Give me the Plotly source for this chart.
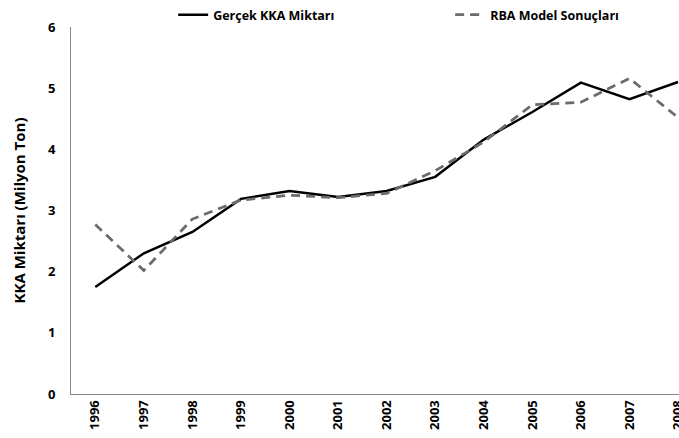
import plotly.graph_objects as go

years = ["1996", "1997", "1998", "1999", "2000", "2001", "2002", "2003",
         "2004", "2005", "2006", "2007", "2008"]
gercek = [1.75, 2.30, 2.65, 3.19, 3.32, 3.22, 3.32, 3.55, 4.16, 4.61, 5.09, 4.82, 5.10]
rba = [2.77, 2.02, 2.86, 3.17, 3.25, 3.21, 3.28, 3.65, 4.12, 4.73, 4.77, 5.16, 4.52]
y_ticks = [0, 1, 2, 3, 4, 5, 6]

FONT = "Open Sans"
x_idx = list(range(len(years)))

fig = go.Figure()
fig.add_trace(go.Scatter(
    x=x_idx, y=gercek, mode="lines", name="Gerçek KKA Miktarı",
    line=dict(color="#000000", width=2.5)))
fig.add_trace(go.Scatter(
    x=x_idx, y=rba, mode="lines", name="RBA Model Sonuçları",
    line=dict(color="#6b6b6b", width=2.75, dash="9px,6px")))

fig.update_layout(
    width=679, height=438,
    margin=dict(l=71, r=0, t=27, b=44, autoexpand=False),
    paper_bgcolor="white", plot_bgcolor="white",
    font=dict(family=FONT, color="#000000"),
    showlegend=True,
    legend=dict(orientation="h", xref="container", yref="container",
                x=0.255, y=1.0, xanchor="left", yanchor="top",
                font=dict(family=FONT, size=12.5, color="#000000", weight="bold"),
                entrywidth=232, entrywidthmode="pixels",
                itemwidth=30, bgcolor="rgba(0,0,0,0)", tracegroupgap=0),
    xaxis=dict(
        range=[-0.5, 12.02], automargin=False, ticklabeloverflow="allow",
        tickmode="array", tickvals=x_idx, ticktext=years,
        tickangle=-90, showgrid=False, zeroline=False,
        showline=True, linecolor="#868686", linewidth=1,
        ticks="", tickfont=dict(family=FONT, size=13, color="#000000", weight="bold"),
    ),
    yaxis=dict(
        range=[0, 6], tickmode="array", tickvals=y_ticks, automargin=False,
        showgrid=False, zeroline=False,
        showline=True, linecolor="#868686", linewidth=1,
        ticks="", ticklabelstandoff=12,
        tickfont=dict(family=FONT, size=13, color="#000000", weight="bold"),
        title=dict(text="KKA Miktarı (Milyon Ton)", standoff=18,
                   font=dict(family=FONT, size=15, color="#000000", weight="bold")),
    ),
)

fig.write_html(
    "out.html",
    config={"displayModeBar": False},
    post_script="document.body.style.margin='0';document.body.style.overflow='hidden';",
)
